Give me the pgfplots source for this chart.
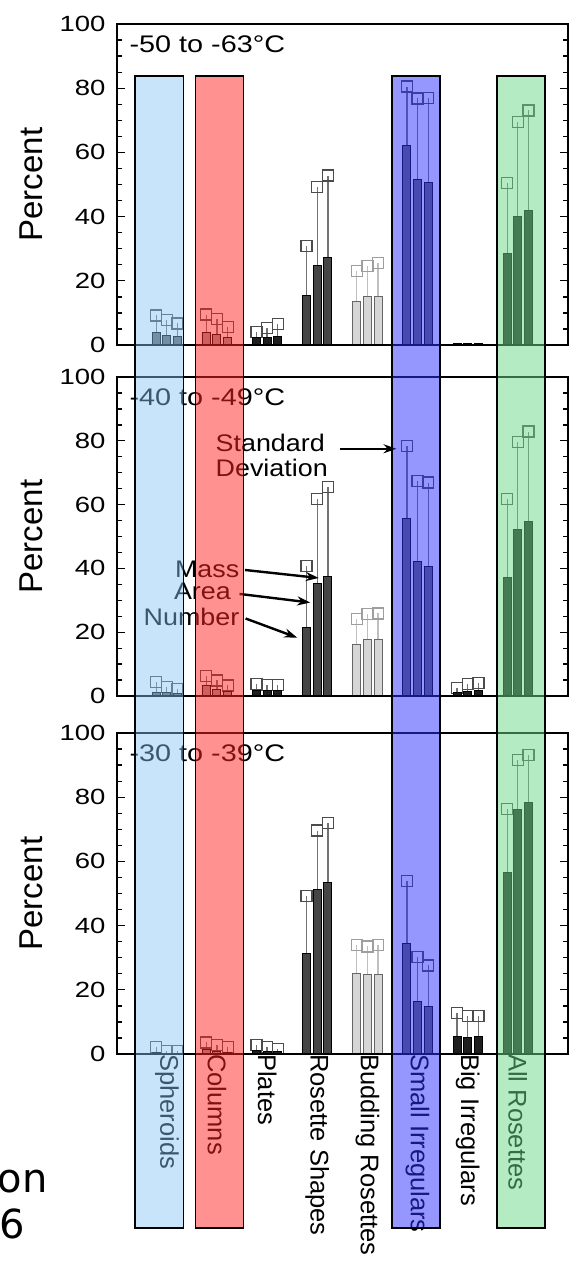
\documentclass[border=0pt]{standalone}
\usepackage{fontspec}
\setmainfont{Liberation Sans}
\newfontfamily\djv{DejaVu Sans}
\usepackage{pgfplots}
\usepackage{pgfplotstable}
\pgfplotsset{compat=1.18}
\usetikzlibrary{arrows.meta}

\definecolor{bMid}{gray}{0.40}
\definecolor{bCol}{gray}{0.62}
\definecolor{bRos}{gray}{0.27}
\definecolor{bDark}{gray}{0.12}
\definecolor{bLight}{gray}{0.84}
\definecolor{errL}{gray}{0.45}
\definecolor{errM}{gray}{0.30}
\definecolor{errLl}{gray}{0.75}
\definecolor{errMl}{gray}{0.62}
\definecolor{bandB}{RGB}{133,195,244}
\definecolor{bandR}{RGB}{255,36,36}
\definecolor{bandP}{RGB}{46,46,255}
\definecolor{bandG}{RGB}{106,216,136}

% x: category, n/a/m: Number/Area/Mass, nu/au/mu: mean + SD, c: bar shade class, ec: error-bar class
\pgfplotstableread{
x n a m nu au mu c ec
0 3.8 3.1 2.7 9.2 7.7 6.7 1 1
1 3.8 3.3 2.3 9.5 8.0 5.7 2 1
2 2.3 2.3 2.6 4.0 5.4 6.6 5 1
3 15.4 24.9 27.2 30.8 49.2 52.8 3 1
4 13.6 15.2 15.2 23.0 24.6 25.6 4 2
5 62.1 51.7 50.7 80.5 76.8 77.0 1 1
6 0.6 0.6 0.6 0.6 0.6 0.6 5 0
7 28.5 39.9 42.0 50.5 69.4 73.1 5 1
}\tabA
\pgfplotstableread{
x n a m nu au mu c ec
0 1.2 1.0 0.7 4.3 2.8 2.3 1 1
1 3.3 2.1 1.4 6.2 4.9 3.3 2 1
2 1.8 1.8 1.8 3.8 3.5 3.5 5 1
3 21.6 35.3 37.6 40.8 61.7 65.5 3 1
4 16.2 17.6 17.6 24.2 25.7 25.9 4 2
5 55.7 42.3 40.7 78.3 67.4 66.9 1 1
6 1.2 1.4 1.7 2.5 3.8 4.0 5 1
7 37.2 52.1 54.8 61.7 79.6 82.9 5 1
}\tabB
\pgfplotstableread{
x n a m nu au mu c ec
0 0.5 0.3 0.3 2.1 1.0 1.0 1 1
1 1.3 0.8 0.5 3.6 2.9 2.1 2 1
2 1.2 0.8 0.8 2.9 2.1 1.6 5 1
3 31.3 51.3 53.4 49.2 69.6 71.9 3 1
4 25.0 24.7 24.7 33.9 33.5 33.9 4 2
5 34.4 16.5 14.8 53.9 30.2 27.6 1 1
6 5.4 5.0 5.4 12.8 11.8 11.8 5 1
7 56.5 76.3 78.3 76.3 91.5 93.2 5 1
}\tabC

\pgfplotsset{
  errsty/.style 2 args={draw=none, mark=none, forget plot, restrict x to domain=-2:9,
    /pgfplots/error bars/y dir=plus,
    /pgfplots/error bars/y explicit,
    /pgfplots/error bars/error bar style={line width=1.3bp, draw=#1},
    /pgfplots/error bars/error mark=square,
    /pgfplots/error bars/error mark options={draw=#2, line width=1.3bp, mark size=5.5bp, fill=none}},
  barsty/.style 2 args={ybar, bar width=8bp, bar shift=0pt, fill=#1, draw=#2, line width=1bp, mark=none, forget plot, restrict x to domain=-2:9},
  pan/.style={
    scale only axis, width=451.3bp,
    xmin=-1, xmax=8, ymin=0, ymax=100,
    clip marker paths=true,
    ytick={0,20,...,100}, minor y tick num=3,
    tick align=inside, major tick length=8bp, minor tick length=5bp,
    axis line style={line width=2bp},
    tick style={line width=1.3bp, black},
    axis on top,
    /pgf/number format/assume math mode=true,
    yticklabel style={font=\fontsize{22bp}{24bp}\selectfont, inner sep=0pt, xshift=-11bp, xscale=1.25},
    ylabel={Percent},
    every axis y label/.style={at={(axis description cs:-0.19,0.5)}, rotate=90, anchor=center, font=\fontsize{33bp}{36bp}\selectfont},
  },
}
\tikzset{
  plabel/.style={anchor=west, inner sep=0pt, font=\fontsize{24bp}{26bp}\selectfont, xscale=1.2},
  annot/.style={inner sep=0pt, font=\fontsize{24bp}{26bp}\selectfont, xscale=1.12},
  arr/.style={line width=2.4bp, -{Stealth[length=13bp,width=9bp]}},
}

% rows of another class are pushed out of the x range and dropped
\newcommand{\errset}[4]{%
  \addplot[errsty={#3}{#4}] table[x expr={\thisrow{x}-0.213+100*(\thisrow{ec}!=#2)}, y=n, y error expr=\thisrow{nu}-\thisrow{n}] {#1};
  \addplot[errsty={#3}{#4}] table[x expr={\thisrow{x}+100*(\thisrow{ec}!=#2)}, y=a, y error expr=\thisrow{au}-\thisrow{a}] {#1};
  \addplot[errsty={#3}{#4}] table[x expr={\thisrow{x}+0.213+100*(\thisrow{ec}!=#2)}, y=m, y error expr=\thisrow{mu}-\thisrow{m}] {#1};
}
\newcommand{\barset}[4]{%
  \addplot[barsty={#3}{#4}] table[x expr={\thisrow{x}-0.213+100*(\thisrow{c}!=#2)}, y=n] {#1};
  \addplot[barsty={#3}{#4}] table[x expr={\thisrow{x}+100*(\thisrow{c}!=#2)}, y=a] {#1};
  \addplot[barsty={#3}{#4}] table[x expr={\thisrow{x}+0.213+100*(\thisrow{c}!=#2)}, y=m] {#1};
}
\newcommand{\drawpanel}[1]{%
  \errset{#1}{1}{errL}{errM}
  \errset{#1}{2}{errLl}{errMl}
  \barset{#1}{1}{bMid}{black}
  \barset{#1}{2}{bCol}{black}
  \barset{#1}{3}{bRos}{black}
  \barset{#1}{4}{bLight}{black!60}
  \barset{#1}{5}{bDark}{black}
}

\begin{document}
\begin{tikzpicture}
\useasboundingbox (0,0) rectangle (574bp,-1264bp);

\begin{axis}[pan, at={(116.7bp,-24bp)}, anchor=north west, height=321bp, xtick=\empty]
\drawpanel{\tabA}
\node[plabel] at (axis description cs:0.028,0.938) {-50 to -63°C};
\end{axis}

\begin{axis}[pan, at={(116.7bp,-377bp)}, anchor=north west, height=319bp, xtick=\empty]
\drawpanel{\tabB}
\node[plabel] at (axis description cs:0.028,0.938) {-40 to -49°C};
\node[annot, anchor=west] at (axis cs:0.97,79.4) {Standard};
\node[annot, anchor=west] at (axis cs:0.97,71.6) {Deviation};
\draw[arr] (axis cs:3.45,77.5) -- (axis cs:4.58,77.5);
\node[annot, anchor=east] at (axis cs:1.45,39.7) {Mass};
\node[annot, anchor=east] at (axis cs:1.28,32.7) {Area};
\node[annot, anchor=east] at (axis cs:1.45,24.9) {Number};
\draw[arr] (axis cs:1.56,39.5) -- (axis cs:3.03,37.0);
\draw[arr] (axis cs:1.45,32.0) -- (axis cs:2.86,29.3);
\draw[arr] (axis cs:1.57,24.3) -- (axis cs:2.60,18.3);
\end{axis}

\begin{axis}[pan, at={(116.7bp,-733bp)}, anchor=north west, height=321bp,
  xtick={0,...,7},
  xticklabels={Spheroids,Columns,Plates,Rosette Shapes,Budding Rosettes,Small Irregulars,Big Irregulars,All Rosettes},
  xticklabel style={rotate=-90, anchor=west, inner sep=0pt, font=\fontsize{25.5bp}{28bp}\selectfont},
  xtick style={draw=none}]
\drawpanel{\tabC}
\node[plabel] at (axis description cs:0.028,0.938) {-30 to -39°C};
\end{axis}

% translucent category bands over all three panels
\filldraw[fill=bandB, fill opacity=0.45, draw=black, line width=1.5bp] (135bp,-76bp) rectangle (183.3bp,-1228bp);
\filldraw[fill=bandR, fill opacity=0.5, draw=black, line width=1.5bp] (195.3bp,-76bp) rectangle (243.3bp,-1228bp);
\filldraw[fill=bandP, fill opacity=0.5, draw=black, line width=1.5bp] (392bp,-76bp) rectangle (440bp,-1228bp);
\filldraw[fill=bandG, fill opacity=0.5, draw=black, line width=1.5bp] (497bp,-76bp) rectangle (545bp,-1228bp);

\node[anchor=base east, inner sep=0pt, font=\djv\fontsize{40bp}{44bp}\selectfont] at (48bp,-1192bp) {on};
\node[anchor=base east, inner sep=0pt, font=\djv\fontsize{40bp}{44bp}\selectfont] at (25bp,-1238bp) {6};
\end{tikzpicture}
\end{document}
